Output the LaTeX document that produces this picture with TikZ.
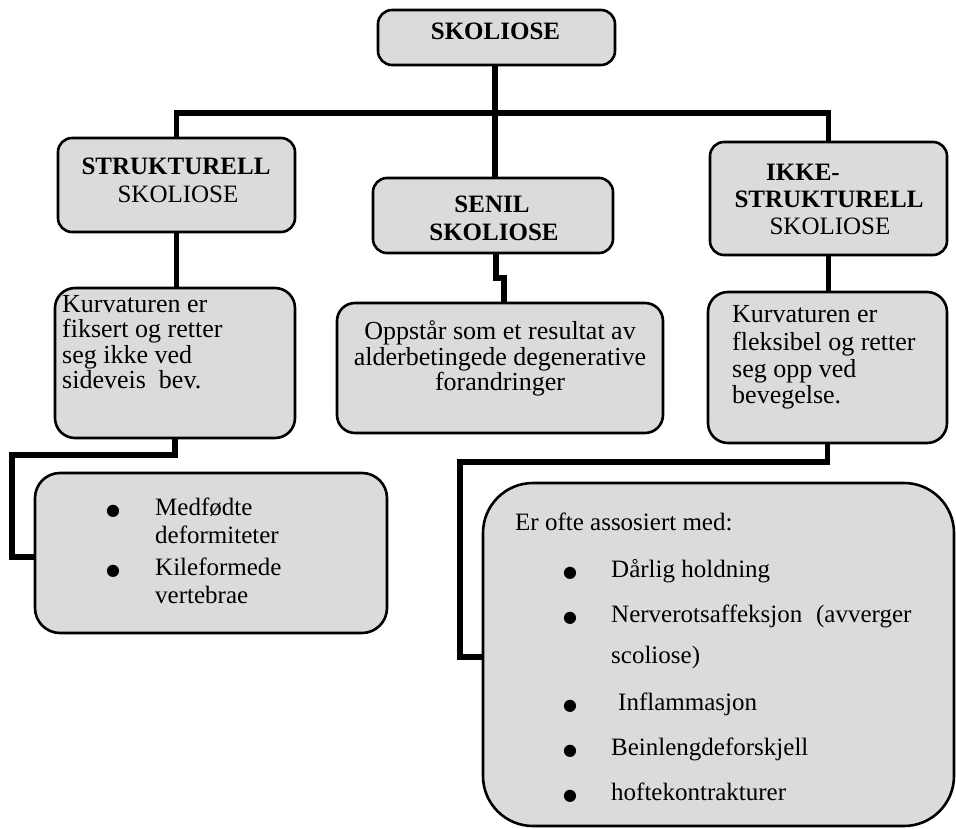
\documentclass[tikz,border=0pt]{standalone}
\usepackage{fontspec}
\setmainfont{Liberation Serif}
\newfontfamily\dejavu{DejaVu Sans}
\usetikzlibrary{backgrounds}
\begin{document}
\begin{tikzpicture}[x=1pt,y=-1pt,
  box/.style={draw=black, line width=2.6pt, fill=black!14, rounded corners=14pt, inner sep=0pt},
  link/.style={line width=5.5pt, line cap=rect, line join=miter},
  hd/.style={font=\fontsize{25}{27}\selectfont\bfseries, inner sep=0pt, anchor=base},
  hr/.style={font=\fontsize{25}{27}\selectfont, inner sep=0pt, anchor=base},
  tx/.style={font=\fontsize{26}{27}\selectfont, inner sep=0pt, anchor=base west},
  tc/.style={font=\fontsize{26}{27}\selectfont, inner sep=0pt, anchor=base},
  tb/.style={font=\fontsize{25}{27}\selectfont, inner sep=0pt, anchor=base west},
  bl/.style={font=\dejavu\fontsize{16}{16}\selectfont, inner sep=0pt, anchor=base},
]
\useasboundingbox (0,0) rectangle (956,829);

% boxes
\node[box, minimum width=237pt, minimum height=55pt] (top) at (496.5,37.5) {};
\node[box, minimum width=237pt, minimum height=94pt] (struct) at (176.5,185) {};
\node[box, minimum width=240pt, minimum height=75pt] (senil) at (493,215.5) {};
\node[box, minimum width=237pt, minimum height=113pt] (ikke) at (828.5,198.5) {};
\node[box, rounded corners=20pt, minimum width=240pt, minimum height=150pt] (kurvL) at (175,363) {};
\node[box, rounded corners=18pt, minimum width=326pt, minimum height=130pt] (oppst) at (500,368) {};
\node[box, rounded corners=20pt, minimum width=239pt, minimum height=151pt] (kurvR) at (827.5,367.5) {};
\node[box, rounded corners=25pt, minimum width=352pt, minimum height=160pt] (bulL) at (211,553) {};
\node[box, rounded corners=50pt, minimum width=471pt, minimum height=343pt] (big) at (718.5,654.5) {};

% connectors
\coordinate (bus) at (495,113);
\coordinate (s1) at (496,278);
\coordinate (s2) at (504,278);
\coordinate (l1) at (12,455);
\coordinate (r1) at (460,462);
\begin{pgfonlayer}{background}
\draw[link] (struct.north) |- (bus) -| (ikke.north);
\draw[link] (top.south -| bus) -- (bus) -- (bus |- senil.north);
\draw[link] (struct.south) -- (struct.south |- kurvL.north);
\draw[link] (ikke.south) -- (ikke.south |- kurvR.north);
\draw[link] (senil.south -| s1) -- (s1) -- (s2) -- (s2 |- oppst.north);
\draw[link] (kurvL.south) |- (l1) |- ([yshift=-4pt]bulL.west);
\draw[link] (kurvR.south) |- (r1) |- ([yshift=-2.5pt]big.west);
\end{pgfonlayer}

% headings
\node[hd] (t0) at (495.5,40) {SKOLIOSE};
\node[hd] (t1) at (176,175) {STRUKTURELL};
\node[hr] (t2) at (178,203) {SKOLIOSE};
\node[hd] (t3) at (492,213) {SENIL};
\node[hd] (t4) at (494,241) {SKOLIOSE};
\node[hd] (t5) at (803,181) {IKKE-};
\node[hd] (t6) at (829,208) {STRUKTURELL};
\node[hr] (t7) at (830,235) {SKOLIOSE};

% left description
\node[tx] (a1) at (62,312) {Kurvaturen er};
\node[tx] (a2) at (62,337.5) {fiksert og retter};
\node[tx] (a3) at (62,363) {seg ikke ved};
\node[tx] (a4) at (62,388.5) {sideveis\hspace{0.5em}bev.};

% middle description
\node[tc] (b1) at (500,339) {Oppstår som et resultat av};
\node[tc] (b2) at (500,365) {alderbetingede degenerative};
\node[tc] (b3) at (500,390) {forandringer};

% right description
\node[tx] (c1) at (732,322) {Kurvaturen er};
\node[tx] (c2) at (732,350) {fleksibel og retter};
\node[tx] (c3) at (732,377) {seg opp ved};
\node[tx] (c4) at (732,403) {bevegelse.};

% left bullets
\node[bl] (d1b) at (113,515) {●};
\node[tb] (d1) at (155,515) {Medfødte};
\node[tb] (d2) at (155,543) {deformiteter};
\node[bl] (d3b) at (113,575) {●};
\node[tb] (d3) at (155,575) {Kileformede};
\node[tb] (d4) at (155,603) {vertebrae};

% big box
\node[tb] (e0) at (515,530) {Er ofte assosiert med:};
\node[bl] (e1b) at (570,577) {●};
\node[tb] (e1) at (611,577) {Dårlig holdning};
\node[bl] (e2b) at (570,622) {●};
\node[tb] (e2) at (611,622) {Nerverotsaffeksjon\hspace{0.55em}(avverger};
\node[tb] (e2c) at (611,663) {scoliose)};
\node[bl] (e3b) at (570,710) {●};
\node[tb] (e3) at (618,710) {Inflammasjon};
\node[bl] (e4b) at (570,755) {●};
\node[tb] (e4) at (611,755) {Beinlengdeforskjell};
\node[bl] (e5b) at (570,800) {●};
\node[tb] (e5) at (611,800) {hoftekontrakturer};
\end{tikzpicture}
\end{document}
